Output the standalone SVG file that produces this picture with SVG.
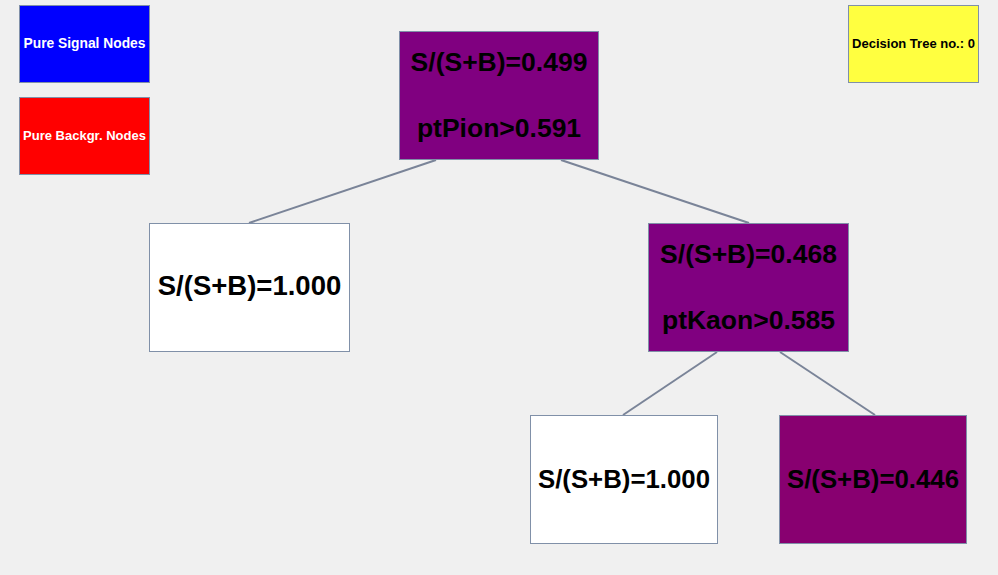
<svg xmlns="http://www.w3.org/2000/svg" width="998" height="575" viewBox="0 0 998 575">
<style>
.box{stroke:#8090a8;stroke-width:1}
.big{font-family:"Liberation Sans",Arial,sans-serif;font-weight:bold;fill:#000;text-anchor:middle}
.small{font-family:"Liberation Sans",Arial,sans-serif;font-weight:bold;font-size:13px;text-anchor:middle}
.edge{stroke:#7a8498;stroke-width:2;fill:none}
</style>
<rect width="998" height="575" fill="#f0f0f0"/>
<g id="connectors">
<line class="edge" x1="436" y1="160" x2="249" y2="223"/>
<line class="edge" x1="561" y1="160" x2="749" y2="223"/>
<line class="edge" x1="717" y1="352" x2="623" y2="415"/>
<line class="edge" x1="780" y1="352" x2="875" y2="415"/>
</g>
<g id="legend-signal">
<rect class="box" x="19.5" y="5.5" width="130" height="77" fill="#0000ff"/>
<text class="small" x="84.5" y="48" fill="#fff" style="font-size:13.8px">Pure Signal Nodes</text>
</g>
<g id="legend-background">
<rect class="box" x="19.5" y="97.5" width="130" height="77" fill="#ff0000"/>
<text class="small" x="84.5" y="140" fill="#fff">Pure Backgr. Nodes</text>
</g>
<g id="tree-label">
<rect class="box" x="848.5" y="5.5" width="130" height="77" fill="#ffff40"/>
<text class="small" x="913.5" y="48" fill="#000">Decision Tree no.: 0</text>
</g>
<g id="node-root">
<rect class="box" x="399.5" y="31.5" width="199" height="128" fill="#800080"/>
<text class="big" x="499" y="71" font-size="26.5">S/(S+B)=0.499</text>
<text class="big" x="499" y="137" font-size="26.5">ptPion&gt;0.591</text>
</g>
<g id="node-left">
<rect class="box" x="149.5" y="223.5" width="200" height="128" fill="#ffffff"/>
<text class="big" x="249.5" y="295" font-size="27.5">S/(S+B)=1.000</text>
</g>
<g id="node-right">
<rect class="box" x="648.5" y="223.5" width="200" height="128" fill="#800080"/>
<text class="big" x="748.5" y="263" font-size="26.5">S/(S+B)=0.468</text>
<text class="big" x="748.5" y="329" font-size="26.5">ptKaon&gt;0.585</text>
</g>
<g id="node-right-left">
<rect class="box" x="530.5" y="415.5" width="187" height="128" fill="#ffffff"/>
<text class="big" x="624" y="488" font-size="25.8">S/(S+B)=1.000</text>
</g>
<g id="node-right-right">
<rect class="box" x="779.5" y="415.5" width="187" height="128" fill="#880070"/>
<text class="big" x="873" y="488" font-size="25.8">S/(S+B)=0.446</text>
</g>
</svg>
